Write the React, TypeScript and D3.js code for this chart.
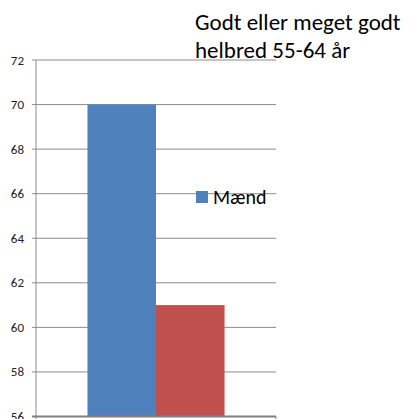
import React from "react";
import * as d3 from "d3";

const categories = ["55-64 år"];
const seriesNames = ["Mænd", "Kvinder"];
const seriesColors = ["#4F81BD", "#C0504D"];
const values = [70, 61];
const yTicks = [56, 58, 60, 62, 64, 66, 68, 70, 72];
const titleLines = ["Godt eller meget godt", "helbred 55-64 år"];

export default function App() {
  const width = 413;
  const height = 419;
  const left = 36;
  const right = 276;
  const top = 60;
  const bottom = 416.5;

  const y = d3.scaleLinear().domain([56, 72]).range([bottom, top]);
  const x = d3.scaleBand().domain(categories).range([left, right]).paddingInner(0.273).paddingOuter(0.273);
  const xs = d3.scaleBand().domain(seriesNames).range([0, x.bandwidth()]);

  const font = "Carlito, 'Open Sans', 'Liberation Sans', sans-serif";

  return (
    <svg width={width} height={height} style={{ position: "absolute", left: 0, top: 0, display: "block" }} fontFamily={font}>
      <rect width={width} height={height} fill="white" />
      {yTicks.map((t) => (
        <g key={t}>
          {t !== 56 && <line x1={left - 4} x2={right} y1={y(t)} y2={y(t)} stroke="#8c8c8c" strokeWidth={1} />}
          <text x={24} y={y(t)} dy="0.35em" textAnchor="end" fontSize={13} fill="#222">{t}</text>
        </g>
      ))}
      <line x1={left} x2={left} y1={top} y2={bottom} stroke="#8c8c8c" strokeWidth={1} />
      {categories.map((c) =>
        seriesNames.map((s, i) => (
          <rect
            key={c + s}
            x={(x(c) ?? 0) + (xs(s) ?? 0)}
            y={y(values[i])}
            width={xs.bandwidth()}
            height={bottom - y(values[i])}
            fill={seriesColors[i]}
          />
        ))
      )}
      <line x1={left - 4} x2={right} y1={bottom} y2={bottom} stroke="#808080" strokeWidth={2} />
      <line x1={right} x2={right} y1={bottom} y2={bottom + 4} stroke="#808080" strokeWidth={1} />
      <line x1={left} x2={left} y1={bottom} y2={bottom + 4} stroke="#808080" strokeWidth={1} />
      <rect x={196} y={191} width={12} height={12} fill={seriesColors[0]} />
      <text x={213} y={204} fontSize={20} fill="#000">{seriesNames[0]}</text>
      {titleLines.map((l, i) => (
        <text key={l} x={195} y={30 + i * 28} fontSize={23} fill="#000">{l}</text>
      ))}
    </svg>
  );
}
